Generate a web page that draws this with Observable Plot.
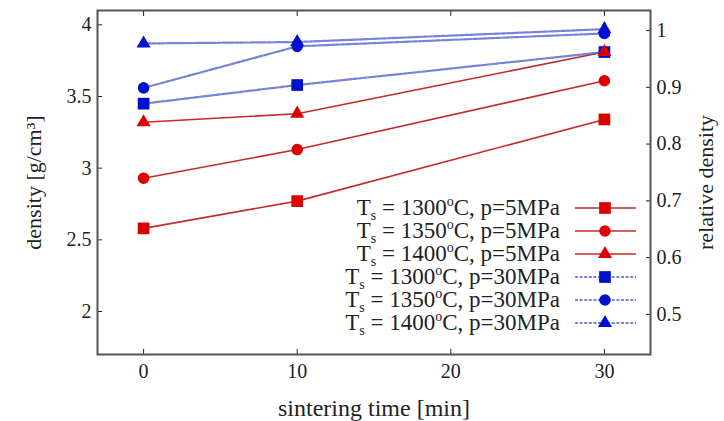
<!DOCTYPE html>
<html><head><meta charset="utf-8">
<script src="https://cdn.jsdelivr.net/npm/d3@7"></script>
<script src="https://cdn.jsdelivr.net/npm/@observablehq/plot@0.6"></script>
<style>
body{margin:0;background:#fff;}
#wrap{position:relative;width:724px;height:421px;}
#legend{position:absolute;left:0;top:0;}
g[aria-label="y-axis label"] text{font-size:22px;}
g[aria-label="x-axis label"] text{font-size:24px;}
g[aria-label$="tick label"] text{font-size:20px;}
</style>
</head><body><div id="wrap"></div>
<script>
const times = [0, 10, 30];
const seriesNames = ["1300_5","1350_5","1400_5","1300_30","1350_30","1400_30"];
const temps = ["1300","1350","1400","1300","1350","1400"];
const pressures = ["5MPa","5MPa","5MPa","30MPa","30MPa","30MPa"];
const symbols = ["square","circle","triangle","square","circle","triangle"];
const d1300_5 = [2.58, 2.77, 3.34];
const d1350_5 = [2.93, 3.13, 3.61];
const d1400_5 = [3.32, 3.38, 3.81];
const d1300_30 = [3.45, 3.58, 3.81];
const d1350_30 = [3.56, 3.85, 3.94];
const d1400_30 = [3.87, 3.88, 3.97];
const values = [d1300_5, d1350_5, d1400_5, d1300_30, d1350_30, d1400_30];
const xTicks = [0, 10, 20, 30];
const yTicks = [2, 2.5, 3, 3.5, 4];
const relTicks = [0.5, 0.6, 0.7, 0.8, 0.9, 1];
const rhoTheo = 3.96;

const redLine = "#c42a2a", redMark = "#dd0000";
const blueLine = "#4a58cc", blueMark = "#0010cc";

const rows = [];
values.forEach((arr, i) => arr.forEach((v, j) => rows.push({
  series: seriesNames[i], t: times[j], d: v, sym: symbols[i], hp: i >= 3
})));
const sizeOf = s => s === "square" ? 6.6 : s === "circle" ? 5.8 : 5.2;

const font = "Liberation Serif, Times New Roman, serif";
const chart = Plot.plot({
  width: 724, height: 421,
  marginLeft: 97, marginRight: 74, marginTop: 10, marginBottom: 67,
  style: {fontFamily: font, fontSize: "20px", color: "#222", background: "#fff"},
  x: {domain: [-3, 33]},
  y: {domain: [1.7, 4.1]},
  r: {type: "identity"},
  symbol: {domain: ["square","circle","triangle"], range: ["square","circle","triangle"]},
  marks: [
    Plot.axisX(xTicks, {anchor: "bottom", tickSize: -5, tickPadding: 14,
      label: "sintering time [min]", labelAnchor: "center", labelArrow: "none", labelOffset: 61}),
    Plot.axisX(xTicks, {anchor: "top", tickSize: -5, tickFormat: () => "", label: null}),
    Plot.axisY(yTicks, {anchor: "left", tickSize: -5, tickPadding: 11,
      tickFormat: d => String(d),
      label: "density [g/cm³]", labelAnchor: "center", labelArrow: "none", labelOffset: 72}),
    Plot.axisY(relTicks.map(r => r * rhoTheo), {anchor: "right", tickSize: -5, tickPadding: 11,
      tickFormat: d => String(Math.round(d / rhoTheo * 10) / 10),
      label: "relative density", labelAnchor: "center", labelArrow: "none", labelOffset: 62}),
    Plot.line(rows.filter(r => !r.hp), {x: "t", y: "d", z: "series", stroke: redLine, strokeWidth: 1.6}),
    Plot.line(rows.filter(r => r.hp), {x: "t", y: "d", z: "series", stroke: blueLine, strokeWidth: 2.2, strokeDasharray: "3,1.6", strokeOpacity: 0.75}),
    Plot.dot(rows, {x: "t", y: "d", symbol: "sym", r: r => sizeOf(r.sym), fill: r => r.hp ? blueMark : redMark, stroke: "none"}),
    Plot.frame({stroke: "#555", strokeWidth: 2})
  ]
});
document.getElementById("wrap").appendChild(chart);

// legend overlay
const svg = d3.select("#wrap").append("svg").attr("id","legend").attr("width",724).attr("height",421);
const rowY = [208, 231, 254, 277, 300, 323];
seriesNames.forEach((s, i) => {
  const y = rowY[i];
  const hp = i >= 3;
  const t = svg.append("text").attr("x", 560).attr("y", y + 7).attr("text-anchor","end")
    .attr("font-family", font).attr("font-size", 23).attr("fill","#222");
  t.append("tspan").text("T");
  t.append("tspan").attr("dy", 5).attr("font-size", 14).text("s");
  t.append("tspan").attr("dy", -5).text(" = " + temps[i]);
  t.append("tspan").attr("dy", -9).attr("font-size", 14).text("o");
  t.append("tspan").attr("dy", 9).text("C, p=" + pressures[i]);
  svg.append("line").attr("x1", 575).attr("x2", 636).attr("y1", y).attr("y2", y)
    .attr("stroke", hp ? blueLine : redLine).attr("stroke-width", hp ? 2.2 : 1.6)
    .attr("stroke-dasharray", hp ? "3,1.6" : null).attr("stroke-opacity", hp ? 0.75 : 1);
  const sym = {square: d3.symbolSquare, circle: d3.symbolCircle, triangle: d3.symbolTriangle}[symbols[i]];
  const r = sizeOf(symbols[i]);
  svg.append("path").attr("d", d3.symbol(sym, r * r * Math.PI)())
    .attr("transform", `translate(605,${y})`).attr("fill", hp ? blueMark : redMark);
});
</script></body></html>
